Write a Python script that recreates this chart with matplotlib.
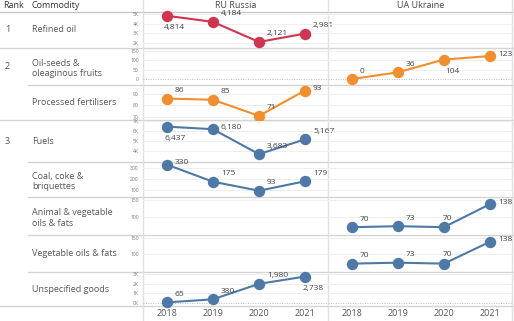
import matplotlib.pyplot as plt
from matplotlib.lines import Line2D

plt.rcParams['font.family'] = ['Open Sans', 'DejaVu Sans']

years = [2018, 2019, 2020, 2021]
countries = ["RU Russia", "UA Ukraine"]

ranks = ["1", "2", "", "3", "", "", "", ""]
commodities = ["Refined oil", "Oil-seeds &\noleaginous fruits", "Processed fertilisers",
               "Fuels", "Coal, coke &\nbriquettes", "Animal & vegetable\noils & fats",
               "Vegetable oils & fats", "Unspecified goods"]

ru_refined_oil = [4814, 4184, 2121, 2981]
ua_oilseeds = [0, 36, 104, 123]
ru_fertilisers = [86, 85, 71, 93]
ru_fuels = [6437, 6180, 3683, 5167]
ru_coal = [330, 175, 93, 179]
ua_animal_veg_oils = [70, 73, 70, 138]
ua_veg_oils = [70, 73, 70, 138]
ru_unspecified = [65, 380, 1980, 2738]

tick_vals = [[2000, 3000, 4000, 5000], [0, 50, 100, 150], [70, 80, 90],
             [4000, 5000, 6000, 7000], [100, 200, 300], [100, 150], [100, 150],
             [0, 1000, 2000, 3000]]
tick_labels = [["2K", "3K", "4K", "5K"], ["0", "50", "100", "150"], ["70", "80", "90"],
               ["4K", "5K", "6K", "7K"], ["100", "200", "300"], ["100", "150"], ["100", "150"],
               ["0K", "1K", "2K", "3K"]]

# (row, country index, values, colour, label placement)
series = [
    (0, 0, ru_refined_oil, "#d0344e", ["b", "ur", "ur", "ur"]),
    (1, 1, ua_oilseeds, "#f28e2b", ["ur", "ur", "b", "r"]),
    (2, 0, ru_fertilisers, "#f28e2b", ["ur", "ur", "ur", "r"]),
    (3, 0, ru_fuels, "#4e79a7", ["b", "r", "ur", "ur"]),
    (4, 0, ru_coal, "#4e79a7", ["r", "ur", "ur", "ur"]),
    (5, 1, ua_animal_veg_oils, "#4e79a7", ["ur", "ur", "u", "r"]),
    (6, 1, ua_veg_oils, "#4e79a7", ["ur", "ur", "u", "r"]),
    (7, 0, ru_unspecified, "#4e79a7", ["ur", "ur", "ur", "b"]),
]

W, H = 514, 321
row_bounds = [(12, 48), (48, 85), (85, 120), (120, 162), (162, 197), (197, 235), (235, 272), (272, 306)]
ylims = [(1500, 5200), (-32, 166), (67.4, 97.8), (2900, 7100), (36, 354), (47, 159), (44, 159), (-310, 3207)]
panel_x = [(143, 328), (328, 513)]
offsets = {"ur": (8, 8, "left"), "r": (8, 2, "left"), "b": (8, -12, "center"), "u": (3, 9, "center")}

fig = plt.figure(figsize=(W / 100, H / 100), dpi=100)
bg = fig.add_axes([0, 0, 1, 1])
bg.set_xlim(0, W)
bg.set_ylim(H, 0)
bg.axis("off")

line_c = "#d4d4d4"
bg.add_line(Line2D([0, W], [12, 12], color="#c8c8c8", lw=1))
for y in [48, 120, 306]:
    bg.add_line(Line2D([0, W], [y, y], color=line_c, lw=1))
for y in [85, 162, 197, 235, 272]:
    bg.add_line(Line2D([28, W], [y, y], color=line_c, lw=1))
for x in [143, 328, 512]:
    bg.add_line(Line2D([x, x], [0, H], color="#e0e0e0", lw=1))

bg.text(3, 6, "Rank", fontsize=6.5, color="#333333", va="center")
bg.text(32, 6, "Commodity", fontsize=6.5, color="#333333", va="center")
for (x0, x1), c in zip(panel_x, countries):
    bg.text((x0 + x1) / 2, 6, c, fontsize=6.5, color="#444444", ha="center", va="center")

for i, (top, bot) in enumerate(row_bounds):
    yc = (top + bot) / 2
    bg.text(5, yc, ranks[i], fontsize=6.5, color="#555555", va="center")
    shift = 2 if "\n" in commodities[i] else 0
    bg.text(32, yc + shift, commodities[i], fontsize=6.5, color="#555555", va="center",
            linespacing=1.25)

axes = []
for i, (top, bot) in enumerate(row_bounds):
    row_axes = []
    for j, (x0, x1) in enumerate(panel_x):
        ax = fig.add_axes([x0 / W, 1 - bot / H, (x1 - x0) / W, (bot - top) / H])
        ax.set_facecolor("none")
        ax.set_xlim(-0.52, 3.5)
        ax.set_ylim(*ylims[i])
        for s in ax.spines.values():
            s.set_visible(False)
        ax.set_xticks([])
        ax.set_yticks(tick_vals[i])
        ax.tick_params(axis="y", length=0, pad=3, labelsize=3.6, labelcolor="#777777")
        if j == 0:
            ax.set_yticklabels(tick_labels[i])
        else:
            ax.set_yticklabels([])
        for v in tick_vals[i]:
            if v == 0:
                ax.axhline(0, color="#bdbdbd", lw=0.7, ls=(0, (1, 1.5)), zorder=0)
            else:
                ax.axhline(v, color="#eeeeee", lw=0.7, zorder=0)
        row_axes.append(ax)
    axes.append(row_axes)

for row, col, vals, color, place in series:
    ax = axes[row][col]
    xs = range(len(years))
    ax.plot(xs, vals, color=color, lw=1.5, marker="o", markersize=7.2, clip_on=False, zorder=3)
    for x, v, p in zip(xs, vals, place):
        dx, dy, ha = offsets[p]
        ax.annotate(f"{v:,}", (x, v), xytext=(dx, dy), textcoords="offset pixels",
                    fontsize=6, color="#444444", ha=ha, va="center", zorder=4,
                    annotation_clip=False)

for x0, x1 in panel_x:
    ax = fig.add_axes([x0 / W, 0, (x1 - x0) / W, 15 / H])
    ax.set_xlim(-0.52, 3.5)
    ax.axis("off")
    for k, yr in enumerate(years):
        ax.text(k, 0.5, str(yr), fontsize=6.5, color="#555555", ha="center", va="center")

fig.savefig("out.png", dpi=100)
